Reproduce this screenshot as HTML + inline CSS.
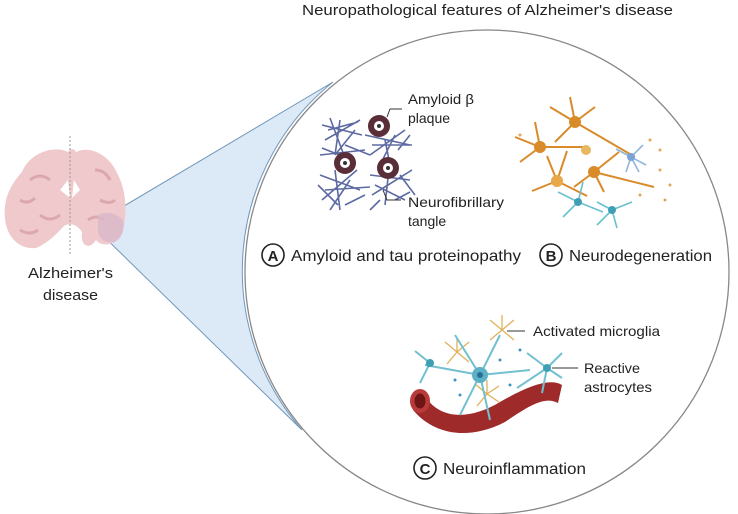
<!DOCTYPE html>
<html><head><meta charset="utf-8"><style>
html,body{margin:0;padding:0;background:#fff}
svg{display:block}
text{font-family:"Liberation Sans",sans-serif;fill:#222}
</style></head><body>
<svg width="738" height="514" viewBox="0 0 738 514" xmlns="http://www.w3.org/2000/svg">
<text x="302" y="15" font-size="15" textLength="371" lengthAdjust="spacingAndGlyphs">Neuropathological features of Alzheimer's disease</text>
<!-- wedge -->
<path d="M92 225 L333 82 A242 242 0 0 0 302 430 Z" fill="#dce9f6" stroke="#6f97bb" stroke-width="1"/>
<circle cx="487" cy="272" r="242" fill="none" stroke="#888" stroke-width="1.3"/>
<!-- brain -->
<g>
<path d="M22 172 C30 152 55 145 68 152 C70 148 74 148 76 152 C90 145 110 155 118 175 C126 190 128 215 122 232 C118 245 102 248 96 240 C90 250 80 247 82 232 C78 225 70 222 64 226 C58 232 50 242 36 248 C18 250 6 235 5 218 C3 200 10 185 22 172 Z" fill="#efc9cc"/>
<path d="M30 180 q10 -8 20 0 M20 200 q8 5 15 -2 M40 215 q10 8 20 0 M95 170 q10 0 15 10 M100 200 q10 5 15 0 M20 230 q10 6 18 0 M88 220 q8 -6 16 0" stroke="#dba8ad" stroke-width="3" fill="none"/>
<path d="M60 190 l8 -10 l2 18 z M80 190 l-6 -10 l-2 18 z" fill="#fff"/>
<path d="M98 215 q14 -6 25 5 q3 15 -8 22 q-14 2 -17 -10 z" fill="#d9b8c8" opacity="0.8"/>
<line x1="70" y1="136" x2="70" y2="255" stroke="#999" stroke-width="1" stroke-dasharray="2,2"/>
</g>
<text x="28" y="278" font-size="15" textLength="85" lengthAdjust="spacingAndGlyphs">Alzheimer's</text>
<text x="43" y="300" font-size="15" textLength="55" lengthAdjust="spacingAndGlyphs">disease</text>
<!-- tangles -->
<g stroke="#4c5a98" stroke-width="1.6" fill="none" opacity="0.9">
<path d="M322 125 l40 10 M325 140 l35 -20 M330 118 l15 40 M320 155 l45 -5 M340 120 l-5 35 M355 130 l-20 25 M345 145 l25 10 M328 130 l30 -8 M322 148 l30 12"/>
<path d="M365 135 l45 10 M370 155 l35 -25 M385 140 l5 25 M395 135 l-15 30 M372 145 l40 0 M398 150 l12 -15"/>
<path d="M320 175 l40 15 M322 200 l35 -30 M335 170 l5 40 M350 180 l-20 30 M325 190 l45 -3 M345 205 l20 -10 M318 185 l20 20"/>
<path d="M370 175 l40 5 M372 195 l40 -25 M390 160 l-5 45 M400 175 l15 20 M375 185 l30 15 M380 200 l-10 10 M395 200 l15 -8"/>
</g>
<g>
<circle cx="379" cy="126" r="11" fill="#5a2e38"/><circle cx="379" cy="126" r="5" fill="#fff"/><circle cx="379" cy="126" r="2" fill="#333"/>
<circle cx="345" cy="163" r="11" fill="#5a2e38"/><circle cx="345" cy="163" r="5" fill="#fff"/><circle cx="345" cy="163" r="2" fill="#333"/>
<circle cx="388" cy="168" r="11" fill="#5a2e38"/><circle cx="388" cy="168" r="5" fill="#fff"/><circle cx="388" cy="168" r="2" fill="#333"/>
</g>
<path d="M387 117 l3 -8 h12" stroke="#333" fill="none"/>
<path d="M383 190 l4 10 h14" stroke="#333" fill="none"/>
<text x="408" y="104" font-size="14" textLength="66" lengthAdjust="spacingAndGlyphs">Amyloid β</text>
<text x="408" y="123" font-size="14">plaque</text>
<text x="408" y="207" font-size="14" textLength="96" lengthAdjust="spacingAndGlyphs">Neurofibrillary</text>
<text x="408" y="226" font-size="14">tangle</text>
<!-- neurodegeneration -->
<g stroke="#d98b2a" stroke-width="2" fill="none">
<path d="M575 122 l-25 -15 M575 122 l-5 -25 M575 122 l20 -15 M575 122 l60 35 M575 122 l-20 20 M540 147 l-25 -10 M540 147 l-20 15 M540 147 l-5 -25 M540 147 l45 0 M594 172 l-20 15 M594 172 l25 -20 M594 172 l60 15 M594 172 l10 20 M557 181 l-25 10 M557 181 l-10 -25 M557 181 l30 15 M557 181 l10 -30"/>
</g>
<g fill="#d98b2a"><circle cx="575" cy="122" r="6"/><circle cx="540" cy="147" r="6"/><circle cx="594" cy="172" r="6"/><circle cx="557" cy="181" r="6" fill="#e8a94a"/><circle cx="586" cy="150" r="5" fill="#e8b860"/></g>
<g stroke="#8fb6dd" stroke-width="1.6" fill="none"><path d="M631 157 l-15 -8 M631 157 l12 -12 M631 157 l15 8 M631 157 l-5 15 M631 157 l8 15"/></g>
<circle cx="631" cy="157" r="4" fill="#7aa2d6"/>
<g stroke="#6cc0cf" stroke-width="1.6" fill="none"><path d="M578 202 l-20 -10 M578 202 l-15 15 M578 202 l25 10 M578 202 l5 -20 M612 210 l-15 -8 M612 210 l20 -8 M612 210 l5 18 M612 210 l-15 15"/></g>
<circle cx="578" cy="202" r="4" fill="#3f9fb5"/><circle cx="612" cy="210" r="4" fill="#3f9fb5"/>
<g fill="#e3a55a"><circle cx="650" cy="140" r="1.5"/><circle cx="660" cy="150" r="1.5"/><circle cx="670" cy="185" r="1.5"/><circle cx="665" cy="200" r="1.5"/><circle cx="520" cy="135" r="1.5"/><circle cx="660" cy="170" r="1.5"/><circle cx="640" cy="195" r="1.5"/></g>
<!-- labels A B -->
<circle cx="273" cy="255" r="11" fill="none" stroke="#222" stroke-width="1.6"/>
<text x="273" y="261" font-size="15" font-weight="bold" text-anchor="middle">A</text>
<text x="291" y="261" font-size="16" textLength="230" lengthAdjust="spacingAndGlyphs">Amyloid and tau proteinopathy</text>
<circle cx="551" cy="255" r="11" fill="none" stroke="#222" stroke-width="1.6"/>
<text x="551" y="261" font-size="15" font-weight="bold" text-anchor="middle">B</text>
<text x="569" y="261" font-size="16" textLength="143" lengthAdjust="spacingAndGlyphs">Neurodegeneration</text>
<!-- neuroinflammation -->
<path d="M425 396 C440 420 470 420 500 402 C530 385 550 378 562 385 L558 403 C545 396 530 405 505 422 C470 440 435 436 413 410 Z" fill="#9e2a2a"/>
<ellipse cx="420" cy="401" rx="10" ry="12" fill="#b93a3a"/><ellipse cx="420" cy="401" rx="5.5" ry="7.5" fill="#6e1515"/>
<g stroke="#e0b15c" stroke-width="1.3" fill="none"><path d="M502 330 l-12 -10 M502 330 l0 -15 M502 330 l12 -10 M502 330 l-12 10 M502 330 l12 10 M457 352 l-12 -10 M457 352 l0 -14 M457 352 l12 -10 M457 352 l-10 12 M457 352 l12 10 M487 394 l-12 -10 M487 394 l0 -14 M487 394 l12 -8 M487 394 l-10 12 M487 394 l12 8"/></g>
<g stroke="#72c0d0" stroke-width="2" fill="none"><path d="M480 375 l-55 -10 M480 375 l20 -40 M480 375 l-25 -40 M480 375 l50 -5 M480 375 l-20 40 M480 375 l10 45 M430 363 l-15 -12 M430 363 l-10 20 M547 368 l-20 -15 M547 368 l15 -15 M547 368 l15 10 M547 368 l-5 25 M547 368 l-30 20"/></g>
<circle cx="480" cy="375" r="8" fill="#5cb1c5"/><circle cx="480" cy="375" r="3" fill="#2a6f93"/>
<circle cx="430" cy="363" r="4" fill="#3f9fb5"/><circle cx="547" cy="368" r="4" fill="#3f9fb5"/>
<g fill="#3c95c9"><circle cx="455" cy="380" r="1.5"/><circle cx="500" cy="360" r="1.5"/><circle cx="510" cy="385" r="1.5"/><circle cx="460" cy="395" r="1.5"/><circle cx="520" cy="350" r="1.5"/></g>
<line x1="507" y1="331" x2="525" y2="331" stroke="#333"/>
<line x1="552" y1="368" x2="578" y2="368" stroke="#333"/>
<text x="533" y="336" font-size="14" textLength="127" lengthAdjust="spacingAndGlyphs">Activated microglia</text>
<text x="584" y="373" font-size="14" textLength="56" lengthAdjust="spacingAndGlyphs">Reactive</text>
<text x="584" y="392" font-size="14" textLength="68" lengthAdjust="spacingAndGlyphs">astrocytes</text>
<circle cx="425" cy="468" r="11" fill="none" stroke="#222" stroke-width="1.6"/>
<text x="425" y="474" font-size="15" font-weight="bold" text-anchor="middle">C</text>
<text x="443" y="474" font-size="16" textLength="143" lengthAdjust="spacingAndGlyphs">Neuroinflammation</text>
</svg>
</body></html>
